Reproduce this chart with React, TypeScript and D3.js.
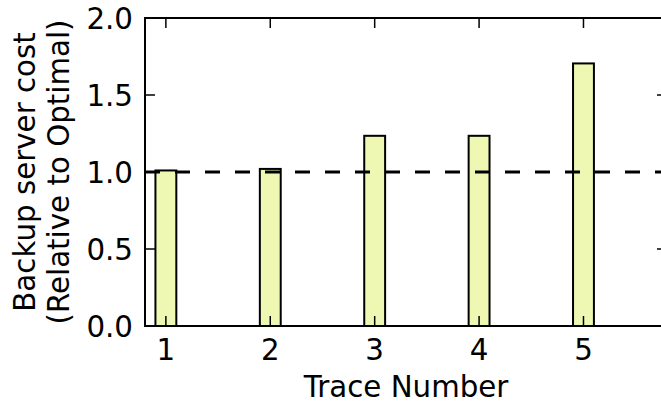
import React from "react";
import * as d3 from "d3";

const traces = [1, 2, 3, 4, 5];
const costs = [1.01, 1.02, 1.235, 1.235, 1.705];
const yTicks = [0.0, 0.5, 1.0, 1.5, 2.0];
const baseline = 1.0;

const W = 661;
const H = 407;
const margin = { left: 145, top: 18, right: 667, bottom: 326 };
const FONT = "DejaVu Sans, sans-serif";
const FS = 29.3;

export default function App() {
  const x = d3.scaleLinear().domain([0.8, 5.8]).range([margin.left, margin.right]);
  const y = d3.scaleLinear().domain([0, 2]).range([margin.bottom, margin.top]);
  const barW = x(1.2) - x(1.0);
  const tickLen = 10;
  return (
    <svg width={W} height={H} style={{ position: "absolute", left: 0, top: 0, background: "#fff" }}>
      {costs.map((v, i) => (
        <rect
          key={i}
          x={x(traces[i]) - barW / 2}
          y={y(v)}
          width={barW}
          height={y(0) - y(v)}
          fill="#eef8b2"
          stroke="#000"
          strokeWidth={2}
        />
      ))}
      <line
        x1={margin.left}
        x2={margin.right}
        y1={y(baseline)}
        y2={y(baseline)}
        stroke="#000"
        strokeWidth={3.2}
        strokeDasharray="15,15"
      />
      {/* ticks */}
      {traces.map((t) => (
        <g key={"xt" + t}>
          <line x1={x(t)} x2={x(t)} y1={margin.bottom} y2={margin.bottom - tickLen} stroke="#000" strokeWidth={1.5} />
          <line x1={x(t)} x2={x(t)} y1={margin.top} y2={margin.top + tickLen} stroke="#000" strokeWidth={1.5} />
          <text x={x(t)} y={margin.bottom + 34} textAnchor="middle" fontFamily={FONT} fontSize={FS}>
            {t}
          </text>
        </g>
      ))}
      {yTicks.map((t) => (
        <g key={"yt" + t}>
          <line x1={margin.left} x2={margin.left + tickLen} y1={y(t)} y2={y(t)} stroke="#000" strokeWidth={1.5} />
          <line x1={margin.right} x2={margin.right - tickLen} y1={y(t)} y2={y(t)} stroke="#000" strokeWidth={1.5} />
          <text x={133} y={y(t)} dy="0.36em" textAnchor="end" fontFamily={FONT} fontSize={FS}>
            {t.toFixed(1)}
          </text>
        </g>
      ))}
      <rect
        x={margin.left}
        y={margin.top}
        width={margin.right - margin.left}
        height={margin.bottom - margin.top}
        fill="none"
        stroke="#000"
        strokeWidth={2}
      />
      <text x={(margin.left + 667) / 2 - 0} y={397} textAnchor="middle" fontFamily={FONT} fontSize={FS}>
        Trace Number
      </text>
      <g transform={`translate(0, ${(margin.top + margin.bottom) / 2}) rotate(-90)`}>
        <text x={0} y={35} textAnchor="middle" fontFamily={FONT} fontSize={FS}>
          Backup server cost
        </text>
        <text x={0} y={69} textAnchor="middle" fontFamily={FONT} fontSize={FS}>
          (Relative to Optimal)
        </text>
      </g>
    </svg>
  );
}
